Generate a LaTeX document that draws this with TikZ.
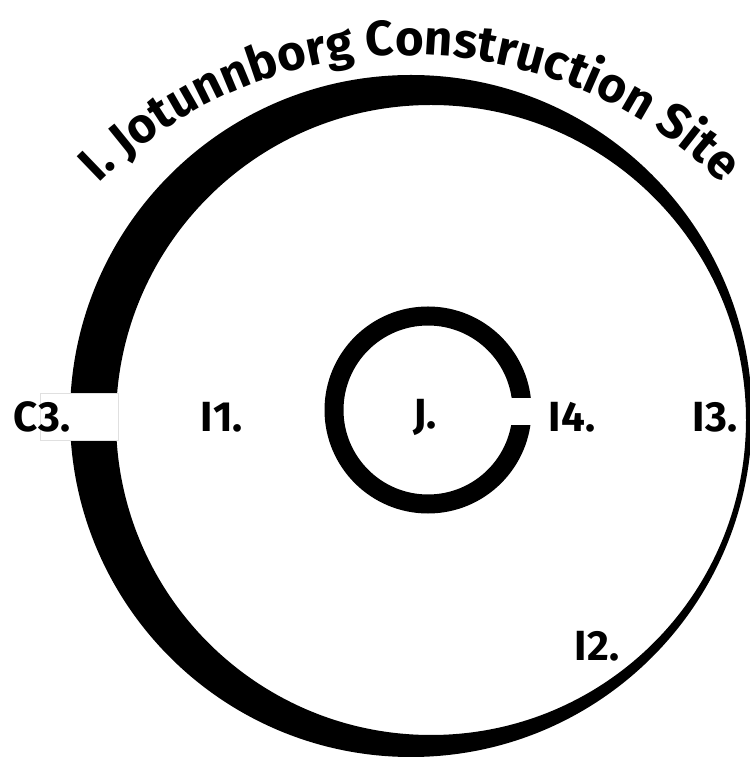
\documentclass[tikz,border=0pt]{standalone}
\usepackage{fontspec}
\setmainfont{Fira Sans}
\usepackage{tikz}
\usetikzlibrary{decorations.text}

\begin{document}
\begin{tikzpicture}[x=0.02cm, y=0.02cm,
  area/.style={font=\fontsize{24}{24}\selectfont\bfseries, inner sep=0pt},
  cut/.style={fill=white, draw=none}]
\useasboundingbox (0,0) rectangle (750,761);
\fill[even odd rule] (411,345) circle[radius=341] (431,341) circle[radius=315];
\draw[line width=19*0.02cm] (428,351) circle[radius=94];
\path[cut] (505,336) rectangle (540,363);
\path[cut, draw=black!12] (40,321) rectangle (118,368);
\node[area] (c3) at (42,344) {C3.};
\node[area] (i1) at (222,344) {I1.};
\node[area] (j) at (425,344) {J.};
\node[area] (i4) at (572,344) {I4.};
\node[area] (i3) at (715,344) {I3.};
\node[area] (i2) at (597,115) {I2.};
\path[decorate, decoration={text along path, text align=center,
  text={|\fontsize{28}{28}\selectfont\bfseries|I. Jotunnborg Construction Site}}]
  (410,264) ++(142:442) arc (142:38:442);
\end{tikzpicture}
\end{document}
